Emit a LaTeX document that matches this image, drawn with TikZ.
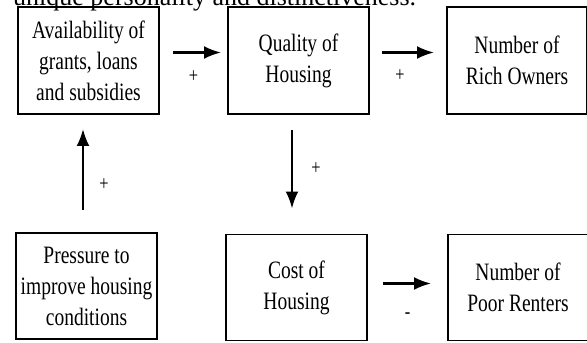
\documentclass[tikz,border=0pt]{standalone}
\usepackage{fontspec}
\setmainfont{Liberation Serif}
\newfontfamily\boxfont[FakeStretch=0.78]{Liberation Serif}
\usetikzlibrary{arrows.meta}
\tikzset{%
  housebox/.style={rectangle, draw=black, line width=1.9pt, minimum width=141pt, minimum height=107pt, inner sep=0pt, align=center, font=\boxfont\fontsize{25}{31}\selectfont},
  houseedge/.style={-{Latex[length=17pt,width=13pt]}, line width=2.4pt},
  signlabel/.style={font=\boxfont\fontsize{21}{21}\selectfont, inner sep=0pt}
}

\begin{document}
\begin{tikzpicture}[x=1pt, y=1pt]
  \clip (0,0) rectangle (587,-343);
  \node[anchor=base west, inner sep=0pt, font=\fontsize{26}{26}\selectfont] (caption) at (13,-5) {unique personality and distinctiveness.};
  \node[housebox] (avail) at (88.5,-60.5) {Availability of\\grants, loans\\and subsidies};
  \node[housebox] (quality) at (298.5,-60.5) {Quality of\\Housing};
  \node[housebox, minimum width=140pt] (rich) at (517,-60.5) {Number of\\Rich Owners};
  \node[housebox, minimum height=106pt] (press) at (86.5,-286) {Pressure to\\improve housing\\conditions};
  \node[housebox, minimum height=106pt] (cost) at (296.5,-287.5) {Cost of\\Housing};
  \node[housebox, minimum width=140pt, minimum height=106pt] (poor) at (518,-287.5) {Number of\\Poor Renters};
  \draw [houseedge, shorten <=13pt, shorten >=6pt] ([yshift=8pt]avail.east) -- ([yshift=8pt]quality.west) node [signlabel, midway, yshift=-24pt] {+};
  \draw [houseedge, shorten <=12pt, shorten >=12pt] ([yshift=8pt]quality.east) -- ([yshift=8pt]rich.west) node [signlabel, midway, xshift=-8pt, yshift=-23pt] {+};
  \draw [houseedge, shorten <=15pt, shorten >=16pt] ([yshift=4pt]cost.east) -- ([yshift=4pt]poor.west) node [signlabel, midway, yshift=-32pt] {-};
  \draw [houseedge, shorten <=22pt, shorten >=14pt] ([xshift=-3.5pt]press.north) -- ([xshift=-5.5pt]avail.south) node [signlabel, midway, xshift=21pt, yshift=-11pt] {+};
  \draw [houseedge, shorten <=15pt, shorten >=25pt] ([xshift=-6.5pt]quality.south) -- ([xshift=-4.5pt]cost.north) node [signlabel, midway, xshift=24pt, yshift=6pt] {+};
\end{tikzpicture}
\end{document}
